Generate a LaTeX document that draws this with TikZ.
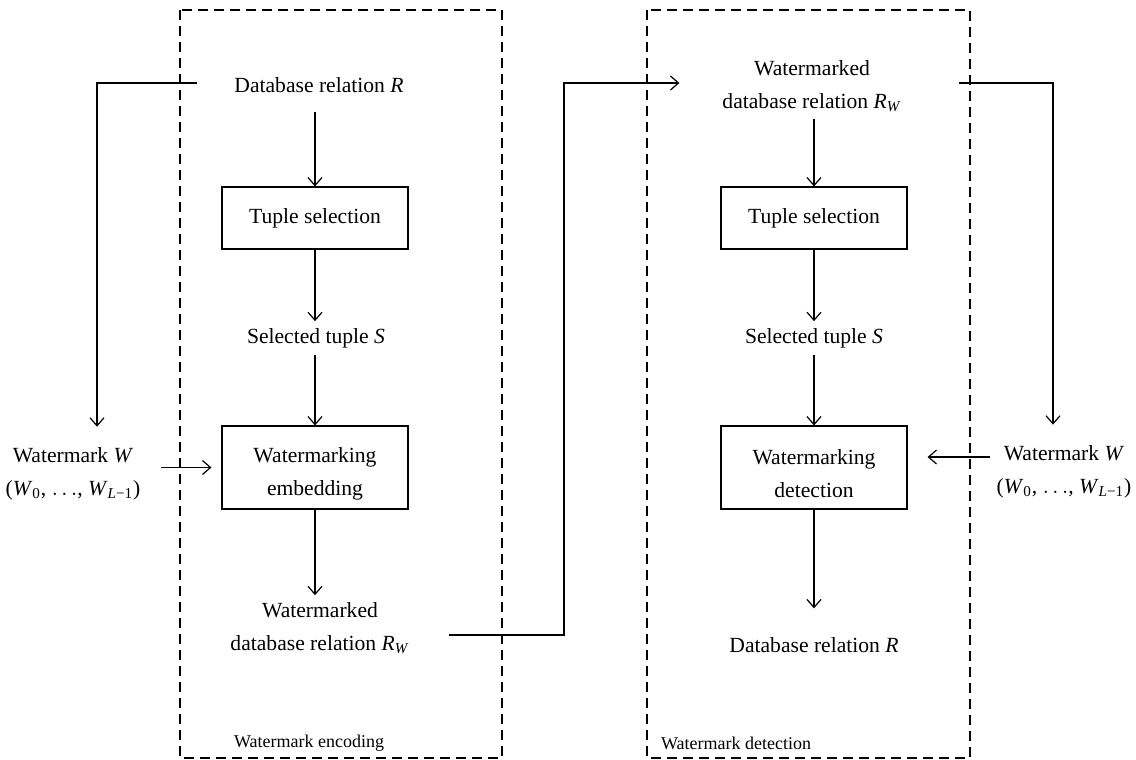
\documentclass[tikz,border=0pt]{standalone}
\usepackage{fontspec}
\setmainfont{Liberation Serif}
\usetikzlibrary{arrows.meta,calc}

\begin{document}
\begin{tikzpicture}[x=0.5pt,y=-0.5pt,
    every node/.style={font=\fontsize{10.8}{16.5}\selectfont,align=center},
    block/.style={draw,line width=0.6pt,minimum width=93pt},
    frame/.style={draw,dash pattern=on 5pt off 3pt,line width=0.55pt},
    framelabel/.style={anchor=west,font=\fontsize{9}{11}\selectfont},
    link/.style={-{Straight Barb[length=4pt,width=7pt]},line width=0.6pt}]
    \useasboundingbox (0,0) rectangle (1136,760);

    % the two dashed frames
    \draw [frame] (180,10) rectangle (502,758);
    \draw [frame] (647,10) rectangle (970,758);
    \node [framelabel] (enclabel) at (227,743) {Watermark encoding};
    \node [framelabel] (declabel) at (654,743) {Watermark detection};

    % encoding side
    \node (encR) at (319,85) {Database relation \textit{R}};
    \node [block,minimum height=31pt] (encSel) at (315,218) {Tuple selection};
    \node (encS) at (316,338) {Selected tuple \textit{S}};
    \node [block,minimum height=41.5pt] (encEmb) at (315,467.5) {\rule{0pt}{14pt}Watermarking\\embedding};
    \node (encRW) at (320,628) {Watermarked\\database relation \textit{R}\textsubscript{\textit{W}}};
    \node (wmIn) at (73,474) {Watermark \textit{W}\\(\textit{W}\textsubscript{0}, $\ldots$, \textit{W}\textsubscript{\textit{L}−1})};

    \draw [link,shorten <=6pt] (encR.south -| encSel) to (encSel);
    \draw [link] (encSel) to (encSel |- encS.north);
    \draw [link] (encS.south -| encEmb) to (encEmb);
    \draw [link] (encEmb) to (encEmb |- encRW.north);
    \draw [link,shorten <=15pt,shorten >=7pt] ([yshift=1pt]encR.west) -| ([xshift=12pt]wmIn.north);
    \draw [link,shorten <=7pt,shorten >=5pt] (wmIn.east |- encEmb) to (encEmb);

    % hand-over to detection side
    \coordinate (bend) at (564,0);
    \node (decRW) at (812,86) {Watermarked\\database relation \textit{R}\textsubscript{\textit{W}}};
    \draw [link,shorten <=16pt,shorten >=18pt] ([yshift=-3.5pt]encRW.east) -- ([yshift=-3.5pt]encRW.east -| bend) |- ([yshift=1.5pt]decRW.west);

    % detection side
    \node [block,minimum height=31pt] (decSel) at (814,218) {Tuple selection};
    \node (decS) at (814,338) {Selected tuple \textit{S}};
    \node [block,minimum height=41.5pt] (decDet) at (814,467.5) {\rule{0pt}{14pt}Watermarking\\detection};
    \node (decR) at (814,645) {Database relation \textit{R}};
    \node (wmOut) at (1064,472) {Watermark \textit{W}\\(\textit{W}\textsubscript{0}, $\ldots$, \textit{W}\textsubscript{\textit{L}−1})};

    \draw [link] (decRW.south -| decSel) to (decSel);
    \draw [link] (decSel) to (decSel |- decS.north);
    \draw [link] (decS.south -| decDet) to (decDet);
    \draw [link,shorten >=11pt] (decDet) to (decDet |- decR.north);
    \draw [link,shorten <=25pt,shorten >=7pt] ([yshift=1.5pt]decRW.east) -| ([xshift=-5.5pt]wmOut.north);
    \draw [link,shorten >=10pt] ([yshift=7.5pt]wmOut.west) to ([yshift=7.5pt]wmOut.west -| decDet.east);
\end{tikzpicture}
\end{document}
